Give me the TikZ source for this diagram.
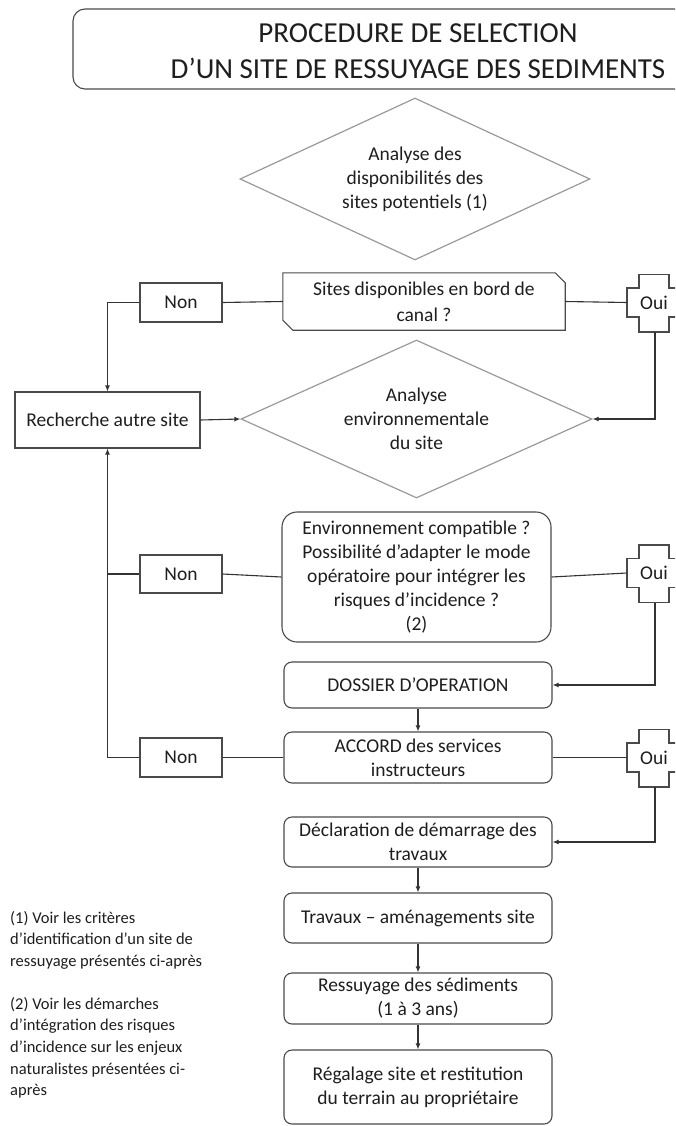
\documentclass[tikz,border=0pt]{standalone}
\usepackage{fontspec}
\setmainfont{Carlito}
\usetikzlibrary{shapes.geometric,arrows.meta,calc}
\definecolor{boxc}{HTML}{4A4A4A}
\definecolor{diac}{HTML}{9A9A9A}
\definecolor{linec}{HTML}{333333}
\definecolor{txt}{HTML}{1E1E1E}
\begin{document}
\begin{tikzpicture}[x=1pt,y=-1pt,
  every node/.style={text=txt, font=\fontsize{19.5}{24}\selectfont},
  boxnode/.style={draw=boxc, line width=1.1pt, rounded corners=8pt, align=center, inner sep=0pt},
  plainnode/.style={draw=boxc, line width=1.1pt, align=center, inner sep=0pt},
  dianode/.style={draw=diac, line width=1.2pt, diamond, align=center, inner sep=0pt},
  bandnode/.style={inner sep=0pt, minimum width=54pt, minimum height=29pt},
  notes/.style={anchor=north west, align=left, inner sep=0pt, font=\fontsize{16.5}{21.6}\selectfont},
  conn/.style={draw=linec, line width=1.1pt},
  arr/.style={conn, -{Latex[length=6pt,width=5pt]}},
  ouicross/.pic={\draw[boxc, line width=1.1pt] (-27,-14.5) -- (-15,-14.5) -- (-15,-28) -- (15,-28) -- (15,-14.5) -- (27,-14.5) -- (27,14.5) -- (15,14.5) -- (15,29.5) -- (-15,29.5) -- (-15,14.5) -- (-27,14.5) -- cycle;}
]
\useasboundingbox (0,0) rectangle (675,1126);
\clip (0,0) rectangle (675,1126);
\fill[white] (0,0) rectangle (675,1126);

% title
\node[boxnode, rounded corners=12pt, minimum width=628pt, minimum height=80pt] (titlebox) at (387,49) {};
\node[font=\fontsize{29}{36}\selectfont, align=center] (titletext) at (418,51) {PROCEDURE DE SELECTION\\D'UN SITE DE RESSUYAGE DES SEDIMENTS};

% diamond 1
\node[dianode, aspect=2.16, minimum width=350pt, minimum height=162pt] (d1) at (415,179) {Analyse des\\disponibilités des\\sites potentiels (1)};

% sites (snipped corners)
\node[align=center, inner sep=0pt, minimum width=282pt, minimum height=57pt, font=\fontsize{19.5}{26}\selectfont] (sites) at (424,301.5) {Sites disponibles en bord de\\canal ?};
\draw[boxc, line width=1.1pt] (sites.north west) -- ($(sites.north east)+(-10,0)$) -- ($(sites.north east)+(0,10)$) -- (sites.south east) -- ($(sites.south west)+(10,0)$) -- ($(sites.south west)+(0,-10)$) -- cycle;

\node[plainnode, minimum width=82pt, minimum height=39pt] (n1) at (181,302.5) {Non};
\node[bandnode] (o1) at (654,302.5) {Oui};
\pic at (o1) {ouicross};
\coordinate (o1b) at (655,332);

% recherche + diamond 2
\node[plainnode, minimum width=185pt, minimum height=56pt] (rech) at (107.5,420) {Recherche autre site};
\node[dianode, aspect=2.22, minimum width=351pt, minimum height=158pt] (d2) at (416.5,419) {Analyse\\environnementale\\du site};

% environnement
\node[boxnode, rounded corners=15pt, minimum width=269pt, minimum height=130pt] (env) at (416.5,577) {Environnement compatible ?\\Possibilité d'adapter le mode\\opératoire pour intégrer les\\risques d'incidence ?\\(2)};
\node[plainnode, minimum width=82pt, minimum height=38pt] (n2) at (181,574) {Non};
\node[bandnode] (o2) at (654,573) {Oui};
\pic at (o2) {ouicross};
\coordinate (o2b) at (655,602.5);

% dossier / accord
\node[boxnode, minimum width=268pt, minimum height=46pt] (dos) at (418,685) {DOSSIER D'OPERATION};
\node[boxnode, minimum width=268pt, minimum height=51pt] (acc) at (418,757.5) {ACCORD des services\\instructeurs};
\node[plainnode, minimum width=82pt, minimum height=39pt] (n3) at (181,757.5) {Non};
\node[bandnode] (o3) at (654,757.5) {Oui};
\pic at (o3) {ouicross};
\coordinate (o3b) at (655,787);

% final chain
\node[boxnode, minimum width=268pt, minimum height=50pt] (decl) at (418,842) {Déclaration de démarrage des\\travaux};
\node[boxnode, minimum width=268pt, minimum height=50pt] (trav) at (418,918) {Travaux -- aménagements site};
\node[boxnode, minimum width=268pt, minimum height=51pt] (ress) at (418,998.5) {Ressuyage des sédiments\\(1 à 3 ans)};
\node[boxnode, minimum width=268pt, minimum height=74pt] (reg) at (418,1087) {Régalage site et restitution\\du terrain au propriétaire};

% footnotes
\node[notes] (fn1) at (10,911) {(1) Voir les critères\\d'identification d'un site de\\ressuyage présentés ci-après};
\node[notes] (fn2) at (10,997) {(2) Voir les démarches\\d'intégration des risques\\d'incidence sur les enjeux\\naturalistes présentées ci-\\après};

% connectors
\draw[conn] (sites.west) -- (n1.east);
\draw[arr] (n1.west) -| (rech.north);
\draw[conn] (sites.east) -- (o1.west);
\draw[arr] (o1b) |- (d2.east);
\draw[arr] (rech.east) -- (d2.west);

\draw[conn] (env.west) -- (n2.east);
\draw[conn] (n2.west) -- (rech.south |- n2.west);
\draw[conn] (env.east) -- (o2.west);
\draw[arr] (o2b) |- (dos.east);
\draw[arr] (dos.south) -- (acc.north);

\draw[conn] (acc.west) -- (n3.east);
\draw[arr] (n3.west) -| (rech.south);
\draw[conn] (acc.east) -- (o3.west);
\draw[arr] (o3b) |- (decl.east);

\draw[arr] (decl.south) -- (trav.north);
\draw[arr] (trav.south) -- (ress.north);
\draw[arr] (ress.south) -- (reg.north);
\end{tikzpicture}
\end{document}
